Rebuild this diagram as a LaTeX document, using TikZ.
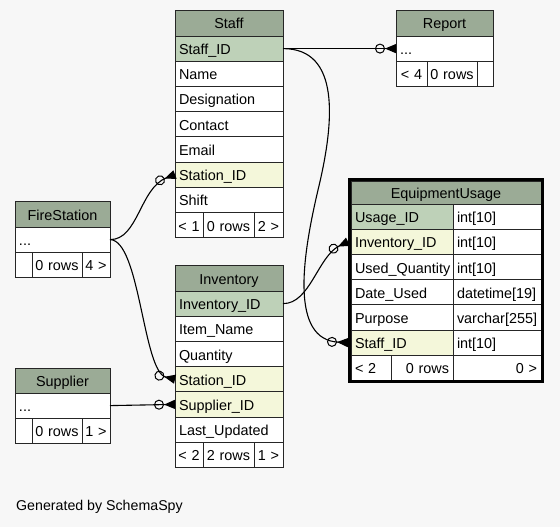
\documentclass[tikz,border=0pt]{standalone}
\usepackage{fontspec}
\setmainfont{Liberation Sans}
\usetikzlibrary{arrows.meta}
\definecolor{bgc}{HTML}{F7F7F7}
\definecolor{hdc}{HTML}{9BAB96}
\definecolor{pkc}{HTML}{BED1B8}
\definecolor{fkc}{HTML}{F4F7DA}
\tikzset{
  cellbox/.style={draw=black!85, line width=0.8pt, anchor=north west, inner xsep=4pt, inner ysep=0pt,
    text height=12pt, text depth=0pt, font=\fontsize{14.4}{16}\selectfont, outer sep=0pt},
  footbox/.style={cellbox, inner xsep=1pt},
  fk/.style={draw=black, line width=1.1pt,
    -{Circle[open,length=10pt,width=10pt,line width=1pt] Triangle[reversed,length=11pt,width=9pt]}},
  gentext/.style={anchor=west, inner sep=0pt, font=\fontsize{14.2}{16}\selectfont}
}
% name, x, y, width, height, fill, align, text
\newcommand{\tcell}[8]{\node[cellbox, fill=#6, minimum height=#5pt, minimum width=#4pt,
  text width=\the\dimexpr #4pt-8pt\relax, align=#7] (#1) at (#2,#3) {#8};}
% footer cell: name, x, y, width, align, text
\newcommand{\fcell}[6]{\node[footbox, fill=white, minimum height=25.2pt, minimum width=#4pt,
  text width=\the\dimexpr #4pt-2pt\relax, align=#5] (#1) at (#2,#3) {\mbox{#6}};}
\begin{document}
\begin{tikzpicture}[x=1pt,y=-1pt]
\fill[bgc] (0,0) rectangle (560,527);
\useasboundingbox (0,0) rectangle (560,527);

% Staff
\tcell{st-h}{175}{10}{108}{26}{hdc}{center}{Staff}
\tcell{st-id}{175}{36}{108}{25.2}{pkc}{left}{Staff\_ID}
\tcell{st-name}{175}{61.2}{108}{25.2}{white}{left}{Name}
\tcell{st-des}{175}{86.4}{108}{25.2}{white}{left}{Designation}
\tcell{st-con}{175}{111.6}{108}{25.2}{white}{left}{Contact}
\tcell{st-em}{175}{136.8}{108}{25.2}{white}{left}{Email}
\tcell{st-sta}{175}{162}{108}{25.2}{fkc}{left}{Station\_ID}
\tcell{st-sh}{175}{187.2}{108}{25.2}{white}{left}{Shift}
\fcell{st-f1}{175}{212.4}{28}{center}{< 1}
\fcell{st-f2}{203}{212.4}{51}{center}{0 rows}
\fcell{st-f3}{254}{212.4}{29}{center}{2 >}

% Inventory
\tcell{inv-h}{175}{265}{108}{26}{hdc}{center}{Inventory}
\tcell{inv-id}{175}{291}{108}{25.2}{pkc}{left}{Inventory\_ID}
\tcell{inv-name}{175}{316.2}{108}{25.2}{white}{left}{Item\_Name}
\tcell{inv-q}{175}{341.4}{108}{25.2}{white}{left}{Quantity}
\tcell{inv-sta}{175}{366.6}{108}{25.2}{fkc}{left}{Station\_ID}
\tcell{inv-sup}{175}{391.8}{108}{25.2}{fkc}{left}{Supplier\_ID}
\tcell{inv-lu}{175}{417}{108}{25.2}{white}{left}{Last\_Updated}
\fcell{inv-f1}{175}{442.2}{28}{center}{< 2}
\fcell{inv-f2}{203}{442.2}{51}{center}{2 rows}
\fcell{inv-f3}{254}{442.2}{29}{center}{1 >}

% EquipmentUsage
\tcell{eu-h}{351}{181}{190}{23}{hdc}{center}{EquipmentUsage}
\tcell{eu-id}{351}{204}{102}{25.2}{pkc}{left}{Usage\_ID}
\tcell{eu-idt}{453}{204}{88}{25.2}{white}{left}{int[10]}
\tcell{eu-inv}{351}{229.2}{102}{25.2}{fkc}{left}{Inventory\_ID}
\tcell{eu-invt}{453}{229.2}{88}{25.2}{white}{left}{int[10]}
\tcell{eu-uq}{351}{254.4}{102}{25.2}{white}{left}{Used\_Quantity}
\tcell{eu-uqt}{453}{254.4}{88}{25.2}{white}{left}{int[10]}
\tcell{eu-du}{351}{279.6}{102}{25.2}{white}{left}{Date\_Used}
\tcell{eu-dut}{453}{279.6}{88}{25.2}{white}{left}{datetime[19]}
\tcell{eu-pu}{351}{304.8}{102}{25.2}{white}{left}{Purpose}
\tcell{eu-put}{453}{304.8}{88}{25.2}{white}{left}{varchar[255]}
\tcell{eu-st}{351}{330}{102}{25.2}{fkc}{left}{Staff\_ID}
\tcell{eu-stt}{453}{330}{88}{25.2}{white}{left}{int[10]}
\tcell{eu-f1}{351}{355.2}{40}{25.2}{white}{left}{< 2}
\tcell{eu-f2}{391}{355.2}{62}{25.2}{white}{right}{0 rows}
\tcell{eu-f3}{453}{355.2}{88}{25.2}{white}{right}{0 >}
\draw[line width=3pt] (349.5,179.5) rectangle (542.5,381.9);

% Report
\tcell{rep-h}{396}{10}{97}{26}{hdc}{center}{Report}
\tcell{rep-r}{396}{36}{97}{25.2}{white}{left}{...}
\fcell{rep-f1}{396}{61.2}{31}{center}{< 4}
\fcell{rep-f2}{427}{61.2}{50}{center}{0 rows}
\fcell{rep-f3}{477}{61.2}{16}{center}{}

% FireStation
\tcell{fs-h}{15}{201}{95}{26}{hdc}{center}{FireStation}
\tcell{fs-r}{15}{227}{95}{25.2}{white}{left}{...}
\fcell{fs-f1}{15}{252.2}{17}{center}{}
\fcell{fs-f2}{32}{252.2}{50}{center}{0 rows}
\fcell{fs-f3}{82}{252.2}{28}{center}{4 >}

% Supplier
\tcell{sup-h}{15}{368}{95}{25}{hdc}{center}{Supplier}
\tcell{sup-r}{15}{393}{95}{25.2}{white}{left}{...}
\fcell{sup-f1}{15}{418.2}{17}{center}{}
\fcell{sup-f2}{32}{418.2}{50}{center}{0 rows}
\fcell{sup-f3}{82}{418.2}{28}{center}{1 >}

% connectors
\draw[fk] (fs-r.east) .. controls (138,240) and (140,188) .. (st-sta.west);
\draw[fk] (fs-r.east) .. controls (140,240) and (143,372) .. (inv-sta.west);
\draw[fk] (sup-r.east) -- (inv-sup.west);
\draw[fk] (st-id.east) -- (rep-r.west);
\draw[fk] (st-id.east) .. controls (340,48.6) and (335,120) .. (318,190)
  .. controls (302,258) and (290,340) .. ([xshift=-3pt]eu-st.west);
\draw[fk] (inv-id.east) .. controls (310,304) and (318,256) .. ([xshift=-3pt]eu-inv.west);

\node[gentext] (gen) at (16,507) {Generated by SchemaSpy};
\end{tikzpicture}
\end{document}
